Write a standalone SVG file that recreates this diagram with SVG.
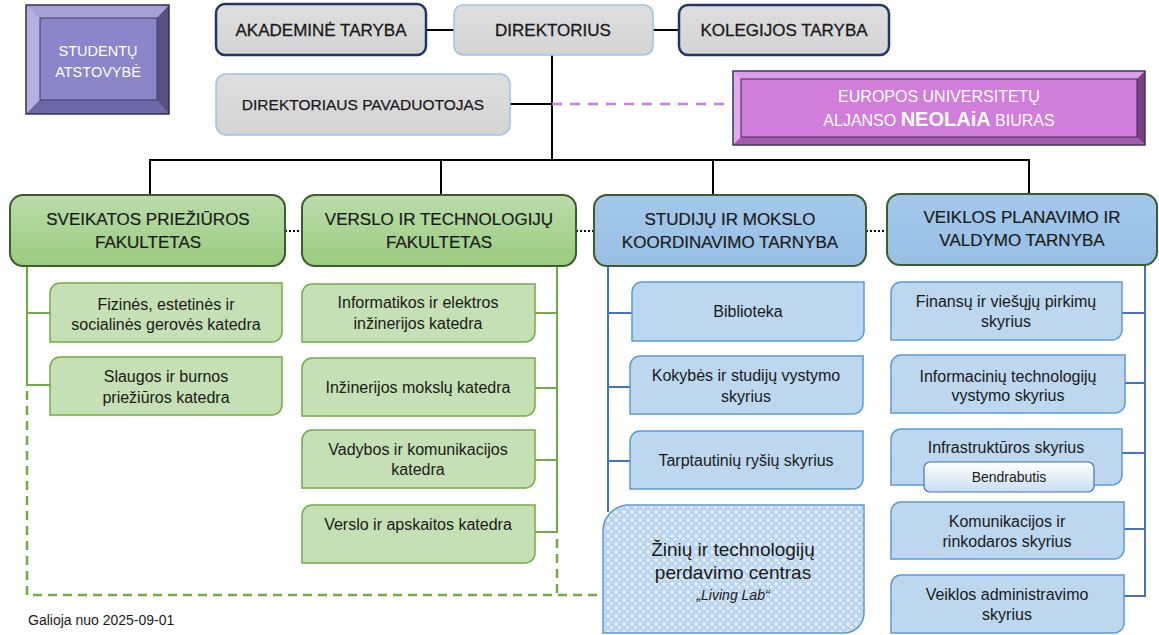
<svg xmlns="http://www.w3.org/2000/svg" width="1159" height="635" viewBox="0 0 1159 635">
<defs>
<linearGradient id="gGreen" x1="0" y1="0" x2="0" y2="1"><stop offset="0" stop-color="#bcdcab"/><stop offset="1" stop-color="#9acb7e"/></linearGradient>
<linearGradient id="gBlue" x1="0" y1="0" x2="0" y2="1"><stop offset="0" stop-color="#a3c8ea"/><stop offset="1" stop-color="#98c0e4"/></linearGradient>
<linearGradient id="gGrey" x1="0" y1="0" x2="0" y2="1"><stop offset="0" stop-color="#dedede"/><stop offset="1" stop-color="#d4d4d4"/></linearGradient>
<linearGradient id="gWhite" x1="0" y1="0" x2="0" y2="1"><stop offset="0" stop-color="#ffffff"/><stop offset="1" stop-color="#c9def2"/></linearGradient>
<pattern id="bubbles" width="8" height="8" patternUnits="userSpaceOnUse">
<rect width="8" height="8" fill="#e2eefa"/>
<circle cx="4" cy="4" r="3.4" fill="#c6dcf2" stroke="#9dbfe3" stroke-width="0.8"/>
<circle cx="3" cy="3" r="1" fill="#ffffff"/>
</pattern>
<style>
text{font-family:"Liberation Sans",Arial,sans-serif;text-anchor:middle;fill:#1a1a1a}
.top{font-size:17px;stroke:#1a1a1a;stroke-width:0.3}
.hdr{font-size:17px;stroke:#1a1a1a;stroke-width:0.2}
.sub{font-size:16px}
.gsub{fill:#c5e0b4;stroke:#70ad47;stroke-width:1.5}
.bsub{fill:#bdd7ee;stroke:#5b9bd5;stroke-width:1.5}
.blk{stroke:#000;stroke-width:2;fill:none}
.gl{stroke:#70ad47;stroke-width:2;fill:none}
.bl{stroke:#4472c4;stroke-width:2;fill:none}
.gdash{stroke:#70ad47;stroke-width:2.5;fill:none;stroke-dasharray:9 6}
.dots{stroke:#000;stroke-width:2;fill:none;stroke-dasharray:2 2}
</style>
</defs>
<rect width="1159" height="635" fill="#ffffff"/>

<g id="connectors">
<line class="blk" x1="426" y1="30" x2="454" y2="30"/>
<line class="blk" x1="653" y1="30" x2="679" y2="30"/>
<line class="blk" x1="552" y1="55" x2="552" y2="160"/>
<line class="blk" x1="510" y1="104" x2="552" y2="104"/>
<line x1="552" y1="104" x2="733" y2="104" stroke="#c77ee0" stroke-width="2.5" stroke-dasharray="10 8"/>
<polyline class="blk" points="150,196 150,160 1029,160 1029,194"/>
<line class="blk" x1="441" y1="160" x2="441" y2="196"/>
<line class="blk" x1="713" y1="160" x2="713" y2="196"/>
<line class="dots" x1="285" y1="231" x2="302" y2="231"/>
<line class="dots" x1="576" y1="231" x2="594" y2="231"/>
<line class="dots" x1="866" y1="231" x2="887" y2="231"/>
<line class="gl" x1="27" y1="266" x2="27" y2="386"/>
<line class="gl" x1="27" y1="313" x2="50" y2="313"/>
<line class="gl" x1="27" y1="385" x2="50" y2="385"/>
<line class="gl" x1="557" y1="266" x2="557" y2="533"/>
<line class="gl" x1="535" y1="313" x2="557" y2="313"/>
<line class="gl" x1="535" y1="388" x2="557" y2="388"/>
<line class="gl" x1="535" y1="460" x2="557" y2="460"/>
<line class="gl" x1="535" y1="532" x2="557" y2="532"/>
<polyline class="gdash" points="27,391 27,595 603,595"/>
<line class="gdash" x1="557" y1="539" x2="557" y2="595"/>
<line class="bl" x1="608" y1="266" x2="608" y2="512"/>
<line class="bl" x1="608" y1="313" x2="632" y2="313"/>
<line class="bl" x1="608" y1="387" x2="630" y2="387"/>
<line class="bl" x1="608" y1="461" x2="630" y2="461"/>
<line class="bl" x1="1145" y1="265" x2="1145" y2="597"/>
<line class="bl" x1="1122" y1="313" x2="1145" y2="313"/>
<line class="bl" x1="1125" y1="383" x2="1145" y2="383"/>
<line class="bl" x1="1122" y1="453" x2="1145" y2="453"/>
<line class="bl" x1="1124" y1="529" x2="1145" y2="529"/>
<line class="bl" x1="1124" y1="596" x2="1145" y2="596"/>
</g>

<g id="studentu-atstovybe">
<rect x="26" y="5" width="143" height="109" fill="#8b85c9"/>
<polygon points="26,5 169,5 157,18 40,18" fill="#a7a1d6"/>
<polygon points="26,5 40,18 40,100 26,114" fill="#b6b1e2"/>
<polygon points="169,5 169,114 157,100 157,18" fill="#565085"/>
<polygon points="26,114 40,100 157,100 169,114" fill="#6f68a8"/>
<rect x="40" y="18" width="117" height="82" fill="#8b85c9" stroke="#3b3d63" stroke-width="1"/>
<rect x="26" y="5" width="143" height="109" fill="none" stroke="#2e3353" stroke-width="1.5"/>
<text x="98" y="56" font-size="14.5" style="fill:#ffffff">STUDENTŲ</text>
<text x="98" y="77" font-size="14.5" style="fill:#ffffff">ATSTOVYBĖ</text>
</g>

<g id="akademine-taryba">
<rect x="216" y="4" width="210" height="51" rx="9" fill="url(#gGrey)" stroke="#1f3864" stroke-width="2.5"/>
<text class="top" x="321" y="36">AKADEMINĖ TARYBA</text>
</g>
<g id="direktorius">
<rect x="454" y="5" width="199" height="50" rx="9" fill="url(#gGrey)" stroke="#9dc3e6" stroke-width="1.5"/>
<text class="top" x="553" y="36">DIREKTORIUS</text>
</g>
<g id="kolegijos-taryba">
<rect x="679" y="5" width="210" height="50" rx="9" fill="url(#gGrey)" stroke="#1f3864" stroke-width="2.5"/>
<text class="top" x="784" y="36">KOLEGIJOS TARYBA</text>
</g>
<g id="direktoriaus-pavaduotojas">
<rect x="216" y="74" width="294" height="61" rx="10" fill="url(#gGrey)" stroke="#9dc3e6" stroke-width="1.5"/>
<text x="363" y="110" font-size="15.5" stroke="#1a1a1a" stroke-width="0.25">DIREKTORIAUS PAVADUOTOJAS</text>
</g>

<g id="neolaia">
<rect x="733" y="71" width="412" height="74" fill="#d07ddb"/>
<polygon points="733,71 1145,71 1137,79 741,79" fill="#de9de8"/>
<polygon points="733,71 741,79 741,137 733,145" fill="#e4aaec"/>
<polygon points="1145,71 1145,145 1137,137 1137,79" fill="#7b3f86"/>
<polygon points="733,145 741,137 1137,137 1145,145" fill="#a55bb0"/>
<rect x="741" y="79" width="396" height="58" fill="#d07ddb" stroke="#3b2f55" stroke-width="1"/>
<rect x="733" y="71" width="412" height="74" fill="none" stroke="#2e3f5e" stroke-width="1.5"/>
<text x="939" y="102" font-size="16" style="fill:#ffffff">EUROPOS UNIVERSITETŲ</text>
<text x="939" y="126" font-size="16" style="fill:#ffffff">ALJANSO <tspan font-weight="bold" font-size="20">NEOLAiA</tspan> BIURAS</text>
</g>

<g id="sveikatos-fakultetas">
<rect x="10" y="195" width="275" height="71" rx="13" fill="url(#gGreen)" stroke="#3b5e2b" stroke-width="2"/>
<text class="hdr" x="148" y="225">SVEIKATOS PRIEŽIŪROS</text>
<text class="hdr" x="148" y="248">FAKULTETAS</text>
</g>
<g id="verslo-fakultetas">
<rect x="302" y="195" width="274" height="71" rx="13" fill="url(#gGreen)" stroke="#3b5e2b" stroke-width="2"/>
<text class="hdr" x="439" y="225">VERSLO IR TECHNOLOGIJŲ</text>
<text class="hdr" x="439" y="248">FAKULTETAS</text>
</g>
<g id="studiju-tarnyba">
<rect x="594" y="195" width="272" height="71" rx="13" fill="url(#gBlue)" stroke="#3b5e2b" stroke-width="2"/>
<text class="hdr" x="730" y="225">STUDIJŲ IR MOKSLO</text>
<text class="hdr" x="730" y="248">KOORDINAVIMO TARNYBA</text>
</g>
<g id="veiklos-tarnyba">
<rect x="887" y="194" width="270" height="71" rx="13" fill="url(#gBlue)" stroke="#3b5e2b" stroke-width="2"/>
<text class="hdr" x="1022" y="223">VEIKLOS PLANAVIMO IR</text>
<text class="hdr" x="1022" y="246">VALDYMO TARNYBA</text>
</g>

<g id="fizines-katedra">
<path class="gsub" d="M60,283 H282 V332 A10,10 0 0 1 272,342 H50 V293 A10,10 0 0 1 60,283 Z"/>
<text class="sub" x="166" y="310">Fizinės, estetinės ir</text>
<text class="sub" x="166" y="330">socialinės gerovės katedra</text>
</g>
<g id="slaugos-katedra">
<path class="gsub" d="M60,357 H282 V405 A10,10 0 0 1 272,415 H50 V367 A10,10 0 0 1 60,357 Z"/>
<text class="sub" x="166" y="382">Slaugos ir burnos</text>
<text class="sub" x="166" y="403">priežiūros katedra</text>
</g>

<g id="informatikos-katedra">
<path class="gsub" d="M312,284 H535 V332 A10,10 0 0 1 525,342 H302 V294 A10,10 0 0 1 312,284 Z"/>
<text class="sub" x="418" y="308">Informatikos ir elektros</text>
<text class="sub" x="418" y="329">inžinerijos katedra</text>
</g>
<g id="inzinerijos-katedra">
<path class="gsub" d="M312,358 H535 V406 A10,10 0 0 1 525,416 H302 V368 A10,10 0 0 1 312,358 Z"/>
<text class="sub" x="418" y="393">Inžinerijos mokslų katedra</text>
</g>
<g id="vadybos-katedra">
<path class="gsub" d="M312,430 H535 V478 A10,10 0 0 1 525,488 H302 V440 A10,10 0 0 1 312,430 Z"/>
<text class="sub" x="418" y="455">Vadybos ir komunikacijos</text>
<text class="sub" x="418" y="475">katedra</text>
</g>
<g id="apskaitos-katedra">
<path class="gsub" d="M312,505 H535 V553 A10,10 0 0 1 525,563 H302 V515 A10,10 0 0 1 312,505 Z"/>
<text class="sub" x="418" y="530">Verslo ir apskaitos katedra</text>
</g>

<g id="biblioteka">
<path class="bsub" d="M642,282 H864 V331 A10,10 0 0 1 854,341 H632 V292 A10,10 0 0 1 642,282 Z"/>
<text class="sub" x="748" y="317">Biblioteka</text>
</g>
<g id="kokybes-skyrius">
<path class="bsub" d="M640,356 H863 V404 A10,10 0 0 1 853,414 H630 V366 A10,10 0 0 1 640,356 Z"/>
<text class="sub" x="746" y="381">Kokybės ir studijų vystymo</text>
<text class="sub" x="746" y="402">skyrius</text>
</g>
<g id="tarptautiniu-skyrius">
<path class="bsub" d="M640,431 H863 V479 A10,10 0 0 1 853,489 H630 V441 A10,10 0 0 1 640,431 Z"/>
<text class="sub" x="746" y="466">Tarptautinių ryšių skyrius</text>
</g>
<g id="living-lab">
<path d="M629,505 H864 V613 A20,20 0 0 1 844,633 H603 V531 A26,26 0 0 1 629,505 Z" fill="url(#bubbles)" stroke="#5b9bd5" stroke-width="1.5"/>
<text x="733" y="556" font-size="19">Žinių ir technologijų</text>
<text x="733" y="579" font-size="19">perdavimo centras</text>
<text x="733" y="600" font-size="14" font-style="italic">„Living Lab“</text>
</g>

<g id="finansu-skyrius">
<path class="bsub" d="M901,282 H1122 V330 A10,10 0 0 1 1112,340 H891 V292 A10,10 0 0 1 901,282 Z"/>
<text class="sub" x="1006" y="307">Finansų ir viešųjų pirkimų</text>
<text class="sub" x="1006" y="327">skyrius</text>
</g>
<g id="it-skyrius">
<path class="bsub" d="M901,355 H1125 V403 A10,10 0 0 1 1115,413 H891 V365 A10,10 0 0 1 901,355 Z"/>
<text class="sub" x="1008" y="382">Informacinių technologijų</text>
<text class="sub" x="1008" y="401">vystymo skyrius</text>
</g>
<g id="infrastrukturos-skyrius">
<path class="bsub" d="M901,429 H1122 V475 A10,10 0 0 1 1112,485 H891 V439 A10,10 0 0 1 901,429 Z"/>
<text class="sub" x="1006" y="453">Infrastruktūros skyrius</text>
<g id="bendrabutis">
<rect x="924" y="462" width="170" height="30" rx="6" fill="url(#gWhite)" stroke="#4472c4" stroke-width="1.2"/>
<text x="1009" y="482" font-size="14">Bendrabutis</text>
</g>
</g>
<g id="komunikacijos-skyrius">
<path class="bsub" d="M901,502 H1124 V549 A10,10 0 0 1 1114,559 H891 V512 A10,10 0 0 1 901,502 Z"/>
<text class="sub" x="1007" y="527">Komunikacijos ir</text>
<text class="sub" x="1007" y="547">rinkodaros skyrius</text>
</g>
<g id="administravimo-skyrius">
<path class="bsub" d="M901,575 H1124 V623 A10,10 0 0 1 1114,633 H891 V585 A10,10 0 0 1 901,575 Z"/>
<text class="sub" x="1007" y="600">Veiklos administravimo</text>
<text class="sub" x="1007" y="620">skyrius</text>
</g>

<text x="28" y="625" font-size="14" style="text-anchor:start">Galioja nuo 2025-09-01</text>
</svg>
